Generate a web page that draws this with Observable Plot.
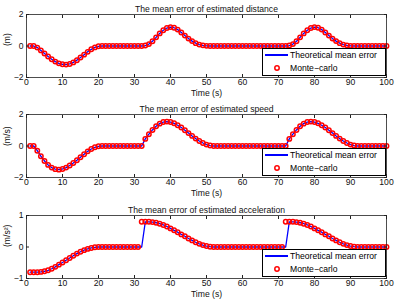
<!DOCTYPE html>
<html>
<head>
<meta charset="utf-8">
<script src="https://cdn.jsdelivr.net/npm/d3@7"></script>
<script src="https://cdn.jsdelivr.net/npm/@observablehq/plot@0.6"></script>
<style>
  html, body { margin: 0; padding: 0; background: white; }
  #chart { position: relative; width: 395px; height: 302px; font-family: "Liberation Sans", Arial, sans-serif; }
  .panel { position: relative; width: 395px; }
  .panel svg { display: block; }
  .legend { position: absolute; left: 262px; width: 122px; height: 26px; border: 1px solid #000; background: #fff; font-size: 8.6px; color: #000; }
  .legend .row { position: absolute; left: 0; height: 12px; line-height: 12px; white-space: nowrap; }
  .legend .row span { position: absolute; left: 27px; }
</style>
</head>
<body>
<div id="chart"></div>
<script>
// ---- data ----
const time = [1,2,3,4,5,6,7,8,9,10,11,12,13,14,15,16,17,18,19,20,
  21,22,23,24,25,26,27,28,29,30,31,32,33,34,35,36,37,38,39,40,
  41,42,43,44,45,46,47,48,49,50,51,52,53,54,55,56,57,58,59,60,
  61,62,63,64,65,66,67,68,69,70,71,72,73,74,75,76,77,78,79,80,
  81,82,83,84,85,86,87,88,89,90,91,92,93,94,95,96,97,98,99,100];

const distanceTheory = [0,0,-0.1,-0.28,-0.48,-0.67,-0.84,-0.99,-1.1,-1.16,-1.18,-1.14,-1.04,-0.9,-0.73,-0.55,-0.37,-0.21,-0.09,-0.02,
  0,0,0,0,0,0,0,0,0,0,0,0,
  0.03,0.12,0.3,0.55,0.8,1.0,1.14,1.2,1.16,1.04,0.86,0.66,0.47,0.31,0.18,0.09,0.04,0.01,0,
  0,0,0,0,0,0,0,0,0,0,0,0,0,0,0,0,0,0,0,0,0,
  0.03,0.12,0.3,0.55,0.8,1.0,1.14,1.2,1.16,1.04,0.86,0.66,0.47,0.31,0.18,0.09,0.04,0.01,0,
  0,0,0,0,0,0,0,0,0];
const distanceMC = distanceTheory;

const speedTheory = [0,0,-0.3,-0.65,-0.95,-1.2,-1.37,-1.47,-1.5,-1.46,-1.37,-1.24,-1.08,-0.9,-0.71,-0.52,-0.34,-0.19,-0.08,-0.02,
  0,0,0,0,0,0,0,0,0,0,0,0,
  0.45,0.75,1.02,1.25,1.42,1.52,1.55,1.52,1.44,1.32,1.17,1.0,0.82,0.64,0.47,0.32,0.19,0.09,0.03,
  0,0,0,0,0,0,0,0,0,0,0,0,0,0,0,0,0,0,0,0,0,
  0.45,0.75,1.02,1.25,1.42,1.52,1.55,1.52,1.44,1.32,1.17,1.0,0.82,0.64,0.47,0.32,0.19,0.09,0.03,
  0,0,0,0,0,0,0,0,0];
const speedMC = speedTheory;

const accelTheory = [-0.8,-0.8,-0.8,-0.79,-0.77,-0.74,-0.69,-0.63,-0.56,-0.49,-0.42,-0.35,-0.28,-0.21,-0.15,-0.1,-0.06,-0.03,-0.01,0,
  0,0,0,0,0,0,0,0,0,0,0,0,
  0.8,0.8,0.79,0.77,0.74,0.7,0.65,0.59,0.53,0.47,0.4,0.34,0.27,0.21,0.15,0.1,0.06,0.03,0.01,0,
  0,0,0,0,0,0,0,0,0,0,0,0,0,0,0,0,0,0,0,0,
  0.8,0.8,0.79,0.77,0.74,0.7,0.65,0.59,0.53,0.47,0.4,0.34,0.27,0.21,0.15,0.1,0.06,0.03,0.01,0,
  0,0,0,0,0,0,0,0];
const accelMC = [-0.8,-0.8,-0.8,-0.79,-0.77,-0.74,-0.69,-0.63,-0.56,-0.49,-0.42,-0.35,-0.28,-0.21,-0.15,-0.1,-0.06,-0.03,-0.01,0,
  0,0,0,0,0,0,0,0,0,0,0,0.8,
  0.8,0.8,0.79,0.77,0.74,0.7,0.65,0.59,0.53,0.47,0.4,0.34,0.27,0.21,0.15,0.1,0.06,0.03,0.01,0,
  0,0,0,0,0,0,0,0,0,0,0,0,0,0,0,0,0,0,0,0.8,
  0.8,0.8,0.79,0.77,0.74,0.7,0.65,0.59,0.53,0.47,0.4,0.34,0.27,0.21,0.15,0.1,0.06,0.03,0.01,0,
  0,0,0,0,0,0,0,0];

const xTicks = [0,10,20,30,40,50,60,70,80,90,100];
const yTicksWide = [-2,0,2];
const yTicksNarrow = [-1,0,1];

const titles = ["The mean error of estimated distance", "The mean error of estimated speed", "The mean error of estimated acceleration"];
const yLabels = ["(m)", "(m/s)", "(m/s\u00B2)"];
const xLabel = "Time (s)";
const legendLabels = ["Theoretical mean error", "Monte\u2212carlo"];

// ---- drawing ----
const panels = [
  {theory: distanceTheory, mc: distanceMC, yDomain: [-2, 2], yTicks: yTicksWide, height: 100, mt: 14, mb: 23, legendTop: 48},
  {theory: speedTheory, mc: speedMC, yDomain: [-2, 2], yTicks: yTicksWide, height: 100, mt: 14, mb: 23, legendTop: 48},
  {theory: accelTheory, mc: accelMC, yDomain: [-1, 1], yTicks: yTicksNarrow, height: 102, mt: 15, mb: 24, legendTop: 49}
];

const fmt = d => String(d).replace("-", "\u2212");
const chart = document.getElementById("chart");
panels.forEach((p, k) => {
  const rows = time.map((t, i) => ({t, theory: p.theory[i], mc: p.mc[i]}));
  const svg = Plot.plot({
    width: 395,
    height: p.height,
    marginLeft: 26,
    marginRight: 9,
    marginTop: p.mt,
    marginBottom: p.mb,
    x: {domain: [0, 100]},
    y: {domain: p.yDomain},
    style: {fontFamily: "'Liberation Sans', Arial, sans-serif", fontSize: "8.6px", background: "white", color: "black", overflow: "visible"},
    marks: [
      Plot.line(rows, {x: "t", y: "theory", stroke: "#0000ff", strokeWidth: 1.3}),
      Plot.dot(rows, {x: "t", y: "mc", r: 2.2, stroke: "#ff0000", strokeWidth: 1.5, fill: "none"}),
      Plot.frame({stroke: "#222", strokeWidth: 0.8}),
      Plot.axisX({ticks: xTicks, tickSize: 0, tickPadding: 1.5, label: null, fill: "#111", tickFormat: fmt}),
      Plot.axisX({ticks: xTicks, tickSize: -3, fill: "none", label: null, stroke: "#222"}),
      Plot.axisX({anchor: "top", ticks: xTicks, tickSize: -3, fill: "none", label: null, stroke: "#222"}),
      Plot.axisY({ticks: p.yTicks, tickSize: 0, tickPadding: 3, label: null, fill: "#111", tickFormat: fmt}),
      Plot.axisY({ticks: p.yTicks, tickSize: -3, fill: "none", label: null, stroke: "#222"}),
      Plot.axisY({anchor: "right", ticks: p.yTicks, tickSize: -3, fill: "none", label: null, stroke: "#222"}),
      Plot.text([titles[k]], {frameAnchor: "top", dy: -9, fill: "#111"}),
      Plot.text([xLabel], {frameAnchor: "bottom", dy: 18, fill: "#111"}),
      Plot.text([yLabels[k]], {frameAnchor: "left", rotate: -90, dx: -19, fill: "#111"})
    ]
  });
  const div = document.createElement("div");
  div.className = "panel";
  div.appendChild(svg);
  const lg = document.createElement("div");
  lg.className = "legend";
  lg.style.top = p.legendTop + "px";
  lg.innerHTML =
    `<div class="row" style="top:0px;width:122px"><svg width="26" height="12" style="position:absolute;left:0;top:0"><line x1="2" x2="25" y1="6" y2="6" stroke="#0000ff" stroke-width="2"/></svg><span>${legendLabels[0]}</span></div>` +
    `<div class="row" style="top:13px;width:122px"><svg width="26" height="12" style="position:absolute;left:0;top:0"><circle cx="14" cy="6" r="2.2" fill="none" stroke="#ff0000" stroke-width="1.5"/></svg><span>${legendLabels[1]}</span></div>`;
  div.appendChild(lg);
  chart.appendChild(div);
});
</script>
</body>
</html>
